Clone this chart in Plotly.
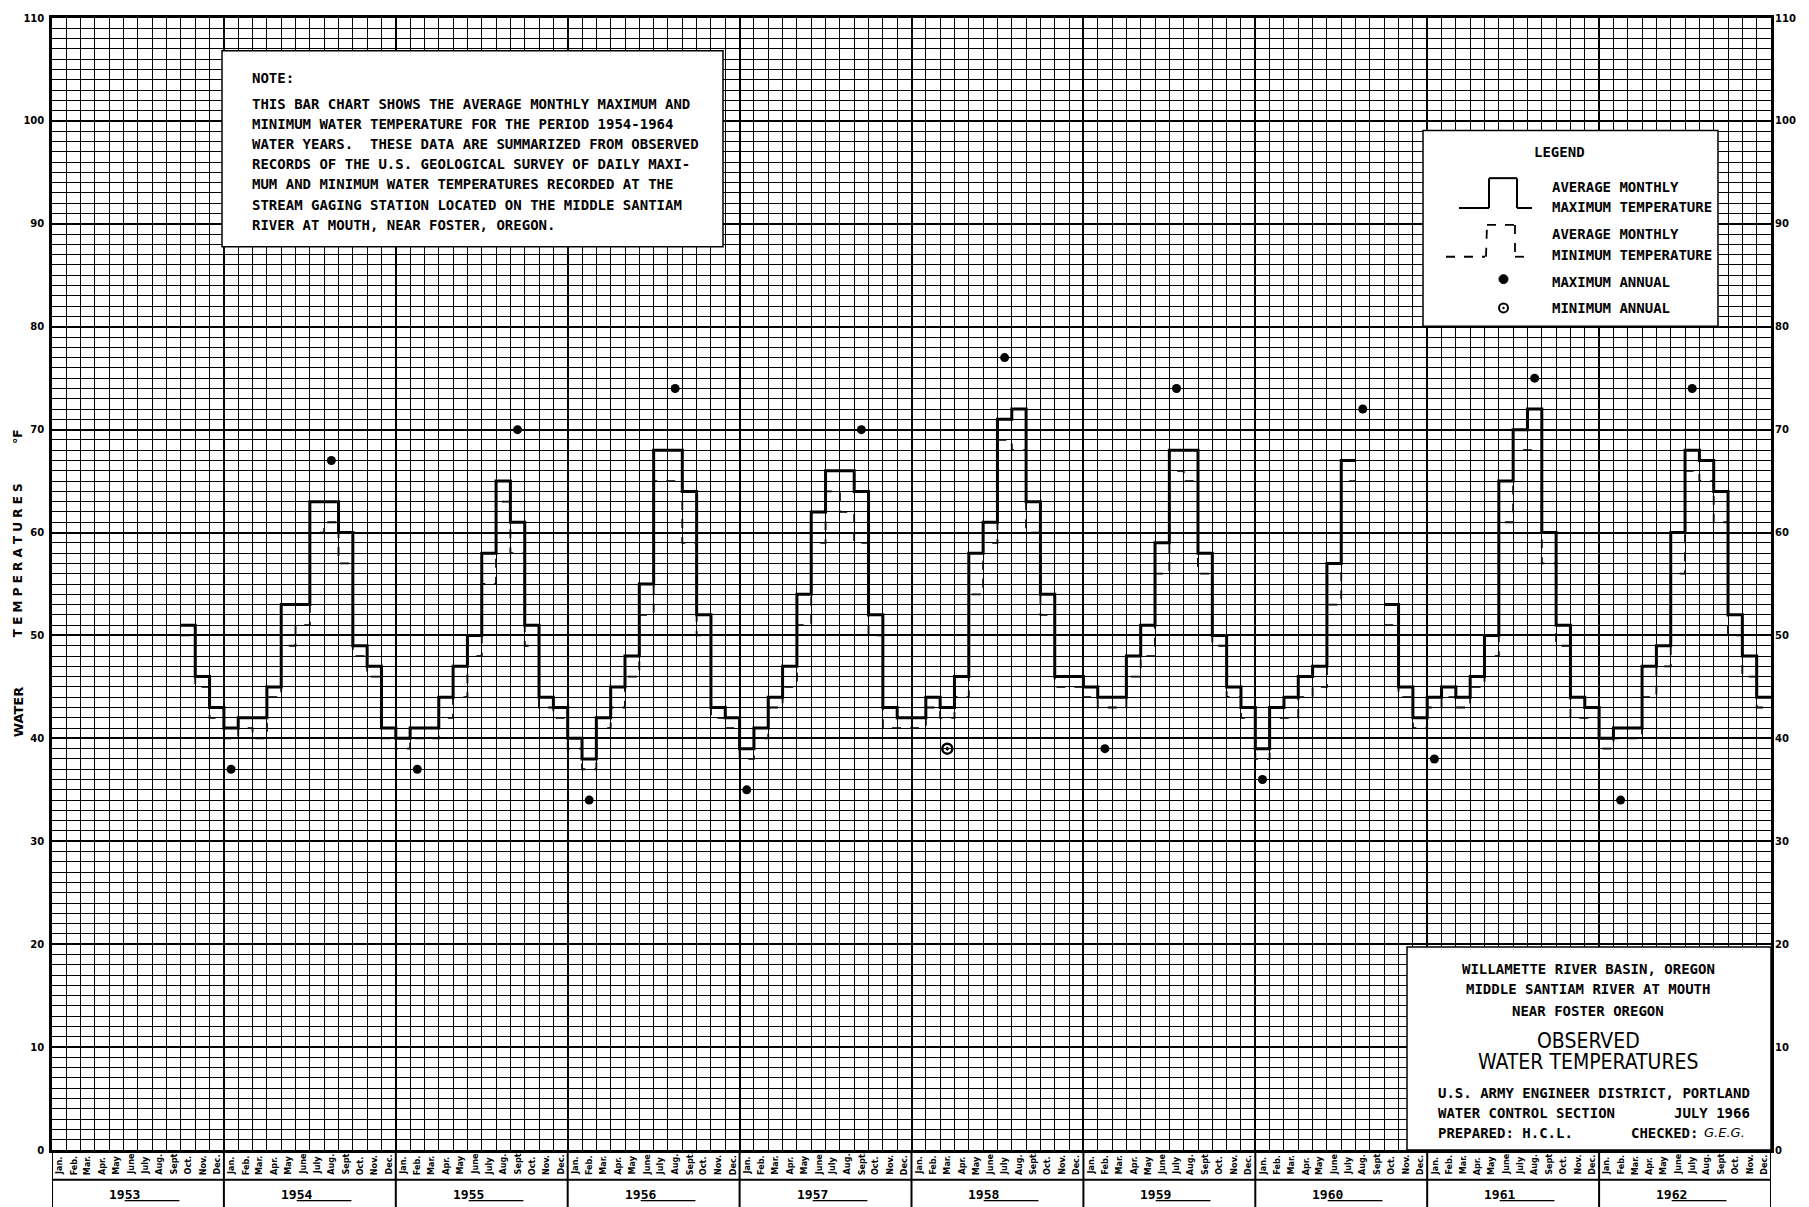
import plotly.graph_objects as go

# ---------------- data ----------------
month_abbr = ["Jan.", "Feb.", "Mar.", "Apr.", "May", "June", "July", "Aug.", "Sept.", "Oct.", "Nov.", "Dec."]
years = [1953, 1954, 1955, 1956, 1957, 1958, 1959, 1960, 1961, 1962]
first_year = 1953
start_month = 9  # series start: Oct 1953 (index from Jan 1953)

# Average monthly maximum temperature, Oct 1953 .. Dec 1962 (None = no record)
max_temp = [51, 46, 43,
            41, 42, 42, 45, 53, 53, 63, 63, 60, 49, 47, 41,
            40, 41, 41, 44, 47, 50, 58, 65, 61, 51, 44, 43,
            40, 38, 42, 45, 48, 55, 68, 68, 64, 52, 43, 42,
            39, 41, 44, 47, 54, 62, 66, 66, 64, 52, 43, 42,
            42, 44, 43, 46, 58, 61, 71, 72, 63, 54, 46, 46,
            45, 44, 44, 48, 51, 59, 68, 68, 58, 50, 45, 43,
            39, 43, 44, 46, 47, 57, 67, None, None, 53, 45, 42,
            44, 45, 44, 46, 50, 65, 70, 72, 60, 51, 44, 43,
            40, 41, 41, 47, 49, 60, 68, 67, 64, 52, 48, 44]

# Average monthly minimum temperature, Oct 1953 .. Dec 1962
min_temp = [50, 45, 42,
            40, 41, 40, 44, 49, 51, 60, 61, 57, 48, 46, 40,
            39, 40, 40, 42, 44, 48, 55, 63, 58, 49, 43, 42,
            39, 37, 41, 43, 46, 52, 65, 65, 59, 50, 42, 41,
            38, 40, 43, 45, 51, 59, 64, 62, 59, 50, 41, 41,
            41, 43, 42, 44, 54, 59, 69, 68, 60, 52, 45, 45,
            44, 43, 43, 46, 48, 56, 66, 65, 56, 49, 44, 42,
            38, 42, 42, 44, 45, 53, 65, None, None, 51, 44, 41,
            43, 44, 43, 45, 48, 61, 68, 68, 57, 49, 42, 42,
            39, 40, 40, 44, 47, 56, 66, 65, 61, 50, 46, 43]

# Annual extremes: (year, month number, value)
max_annual_year = [1954, 1955, 1956, 1957, 1958, 1959, 1960, 1961, 1962]
max_annual_month = [8, 9, 8, 9, 7, 7, 8, 8, 7]
max_annual_val = [67, 70, 74, 70, 77, 74, 72, 75, 74]

min_annual_year = [1954, 1955, 1956, 1957, 1958, 1959, 1960, 1961, 1962]
min_annual_month = [1, 2, 2, 1, 3, 2, 1, 1, 2]
min_annual_val = [37, 37, 34, 35, 39, 39, 36, 38, 34]
min_annual_kind = ["filled", "filled", "filled", "filled", "circled", "filled", "filled", "filled", "filled"]

y_ticks = list(range(0, 111, 10))

note_lines = [
    "THIS BAR CHART SHOWS THE AVERAGE MONTHLY MAXIMUM AND",
    "MINIMUM WATER TEMPERATURE FOR THE PERIOD 1954-1964",
    "WATER YEARS.  THESE DATA ARE SUMMARIZED FROM OBSERVED",
    "RECORDS OF THE U.S. GEOLOGICAL SURVEY OF DAILY MAXI-",
    "MUM AND MINIMUM WATER TEMPERATURES RECORDED AT THE",
    "STREAM GAGING STATION LOCATED ON THE MIDDLE SANTIAM",
    "RIVER AT MOUTH, NEAR FOSTER, OREGON.",
]

# ---------------- geometry helpers ----------------
W, H = 1809, 1207
L, R, T, B = 52, 1771, 12, 1150
n_months = len(years) * 12


def px(X):
    return (X - L) / (R - L)


def py(Y):
    return (B - Y) / (B - T)


def steps(vals, start):
    xs, ys = [], []
    for i, v in enumerate(vals):
        k = start + i
        if v is None:
            xs.append(None)
            ys.append(None)
            continue
        xs += [k, k + 1]
        ys += [v, v]
    return xs, ys


def month_pos(yr, m):
    return (yr - first_year) * 12 + (m - 1) + 0.5


fig = go.Figure()

mx_x, mx_y = steps(max_temp, start_month)
mn_x, mn_y = steps(min_temp, start_month)

fig.add_trace(go.Scatter(x=mn_x, y=mn_y, mode="lines",
                         line=dict(color="black", width=1.8, dash="dash"),
                         connectgaps=False, hoverinfo="skip"))
fig.add_trace(go.Scatter(x=mx_x, y=mx_y, mode="lines",
                         line=dict(color="black", width=3),
                         connectgaps=False, hoverinfo="skip"))

fig.add_trace(go.Scatter(
    x=[month_pos(yr, m) for yr, m in zip(max_annual_year, max_annual_month)],
    y=max_annual_val, mode="markers",
    marker=dict(symbol="circle", size=9, color="black", opacity=1)))

filled = [i for i, k in enumerate(min_annual_kind) if k == "filled"]
circled = [i for i, k in enumerate(min_annual_kind) if k == "circled"]
fig.add_trace(go.Scatter(
    x=[month_pos(min_annual_year[i], min_annual_month[i]) for i in filled],
    y=[min_annual_val[i] for i in filled], mode="markers",
    marker=dict(symbol="circle", size=9, color="black", opacity=1)))
fig.add_trace(go.Scatter(
    x=[month_pos(min_annual_year[i], min_annual_month[i]) for i in circled],
    y=[min_annual_val[i] for i in circled], mode="markers",
    marker=dict(symbol="circle-open-dot", size=10, color="black", opacity=1,
                line=dict(color="black", width=2.5))))

# trace for the right-hand axis
fig.add_trace(go.Scatter(x=[None], y=[None], yaxis="y2", showlegend=False))

shapes = []
annotations = []

MONO = "DejaVu Sans Mono"
COND = "DejaVu Sans Condensed"


def txt(X, Y, s, size=14, family=MONO, xanchor="left", yanchor="middle", angle=0, bold=True):
    annotations.append(dict(
        x=px(X), y=py(Y), xref="paper", yref="paper", text=("<b>%s</b>" % s) if bold else s,
        showarrow=False, xanchor=xanchor, yanchor=yanchor, textangle=angle,
        font=dict(family=family, size=size, color="black")))


def box(x0, y0, x1, y1, width=2):
    shapes.append(dict(type="rect", xref="paper", yref="paper",
                       x0=px(x0), x1=px(x1), y0=py(y1), y1=py(y0),
                       fillcolor="white", line=dict(color="black", width=width), layer="above"))


def seg(x0, y0, x1, y1, width=2, dash="solid"):
    shapes.append(dict(type="line", xref="paper", yref="paper",
                       x0=px(x0), x1=px(x1), y0=py(y0), y1=py(y1),
                       line=dict(color="black", width=width, dash=dash), layer="above"))


# ---- note box ----
box(222, 45, 723, 242, width=1.5)
txt(250, 72, "NOTE:")
for i, line in enumerate(note_lines):
    txt(250, 98 + i * 20.3, line)

# ---- legend box ----
box(1423, 125, 1718, 322, width=1.5)
txt(1559, 147, "LEGEND", xanchor="center")
txt(1550, 182, "AVERAGE MONTHLY")
txt(1550, 202, "MAXIMUM TEMPERATURE")
txt(1550, 229, "AVERAGE MONTHLY")
txt(1550, 250, "MINIMUM TEMPERATURE")
txt(1550, 277, "MAXIMUM ANNUAL")
txt(1550, 304, "MINIMUM ANNUAL")
# solid step glyph
seg(1459, 203, 1489, 203)
seg(1489, 203, 1489, 173)
seg(1489, 173, 1517, 173)
seg(1517, 173, 1517, 203)
seg(1517, 203, 1532, 203)
# dashed step glyph
seg(1446, 252, 1485, 252, width=1.8, dash="dash")
seg(1486, 252, 1487, 220, width=1.8, dash="dash")
seg(1487, 220, 1515, 220, width=1.8, dash="dash")
seg(1515, 220, 1515, 252, width=1.8, dash="dash")
seg(1515, 252, 1532, 252, width=1.8, dash="dash")
# dots
shapes.append(dict(type="circle", xref="paper", yref="paper",
                   x0=px(1499), x1=px(1508), y0=py(279), y1=py(270),
                   fillcolor="black", line=dict(color="black", width=1), layer="above"))
shapes.append(dict(type="circle", xref="paper", yref="paper",
                   x0=px(1499), x1=px(1508), y0=py(308), y1=py(299),
                   fillcolor="white", line=dict(color="black", width=2), layer="above"))
shapes.append(dict(type="circle", xref="paper", yref="paper",
                   x0=px(1502.5), x1=px(1504.5), y0=py(304.5), y1=py(302.5),
                   fillcolor="black", line=dict(color="black", width=0.5), layer="above"))

# ---- title box ----
box(1407, 946, 1771, 1150, width=1.5)
txt(1588, 968, "WILLAMETTE RIVER BASIN, OREGON", xanchor="center")
txt(1588, 988, "MIDDLE SANTIAM RIVER AT MOUTH", xanchor="center")
txt(1588, 1010, "NEAR FOSTER OREGON", xanchor="center")
txt(1588, 1040, "OBSERVED", size=21, family="Liberation Sans Narrow, DejaVu Sans Condensed",
    xanchor="center", bold=False)
txt(1588, 1062, "WATER TEMPERATURES", size=21, family="Liberation Sans Narrow, DejaVu Sans Condensed",
    xanchor="center", bold=False)
txt(1436, 1093, "U.S. ARMY ENGINEER DISTRICT, PORTLAND")
txt(1436, 1113, "WATER CONTROL SECTION")
txt(1752, 1113, "JULY 1966", xanchor="right")
txt(1436, 1133, "PREPARED: H.C.L.")
txt(1700, 1133, "CHECKED:", xanchor="right")
txt(1702, 1132, "<i>G.E.G.</i>", xanchor="left", family="DejaVu Sans", size=13, bold=False)

# ---- y axis title ----
txt(18, 433, "°F", size=12, family="DejaVu Sans", xanchor="center", angle=-90)
txt(18, 557, "T E M P E R A T U R E S", size=12, family="DejaVu Sans", xanchor="center", angle=-90)
txt(18, 710, "WATER", size=13, family="DejaVu Sans", xanchor="center", angle=-90)

# ---- month & year rows below the chart ----
ROW1 = 1180
BOT = 1207
for j, yr in enumerate(years):
    for m, name in enumerate(month_abbr):
        annotations.append(dict(
            x=j * 12 + m + 0.5, y=py(1177), xref="x", yref="paper",
            text="<b>%s</b>" % name, showarrow=False, textangle=-90,
            xanchor="center", yanchor="bottom",
            font=dict(family=COND, size=9, color="black")))
    annotations.append(dict(
        x=j * 12 + 6, y=py(1195), xref="x", yref="paper", xshift=6,
        text="<b>19<u>%s\u00a0\u00a0\u00a0\u00a0\u00a0</u></b>" % str(yr)[2:],
        showarrow=False, xanchor="center", yanchor="middle",
        font=dict(family=MONO, size=13, color="black")))

shapes.append(dict(type="line", xref="paper", yref="paper", x0=0, x1=1,
                   y0=py(ROW1), y1=py(ROW1), line=dict(color="black", width=2)))
for j in range(len(years) + 1):
    shapes.append(dict(type="line", xref="x", yref="paper", x0=j * 12, x1=j * 12,
                       y0=py(B), y1=py(BOT + 5), line=dict(color="black", width=2)))

axis_font = dict(family="DejaVu Sans", size=10, color="black", weight="bold")

fig.update_layout(
    width=W, height=H, autosize=False,
    margin=dict(l=L, r=W - R, t=T, b=H - B, pad=0),
    paper_bgcolor="white", plot_bgcolor="white",
    showlegend=False,
    xaxis=dict(range=[0, n_months], tick0=0, dtick=12, showgrid=True, gridcolor="black", gridwidth=2.4,
               minor=dict(tick0=0, dtick=1, showgrid=True, gridcolor="black", gridwidth=1.4),
               showticklabels=False, ticks="", zeroline=False,
               showline=True, linecolor="black", linewidth=2.5, mirror=True, fixedrange=True),
    yaxis=dict(range=[0, 110], tick0=0, dtick=10, tickvals=y_ticks, showgrid=True, gridcolor="black",
               gridwidth=2.4,
               minor=dict(tick0=0, dtick=1, showgrid=True, gridcolor="black", gridwidth=1.4),
               ticks="", tickfont=axis_font, ticklabelstandoff=3, zeroline=False,
               showline=True, linecolor="black", linewidth=2.5, mirror=True, fixedrange=True),
    yaxis2=dict(range=[0, 110], tickvals=y_ticks, overlaying="y", side="right", showgrid=False,
                ticks="", tickfont=axis_font, ticklabelstandoff=3, zeroline=False, showline=False,
                fixedrange=True),
    shapes=shapes,
    annotations=annotations,
)

fig.write_html("out.html")
